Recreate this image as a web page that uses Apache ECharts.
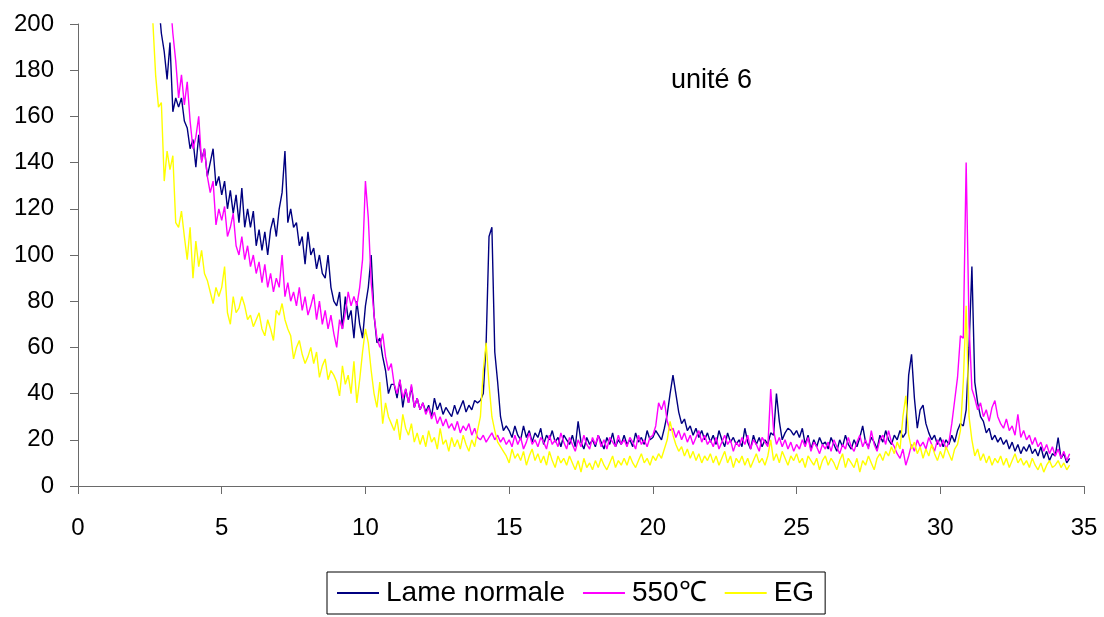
<!DOCTYPE html>
<html>
<head>
<meta charset="utf-8">
<script src="https://cdn.jsdelivr.net/npm/echarts@6/dist/echarts.min.js"></script>
<style>
  html, body { margin: 0; padding: 0; background: #fff; }
  #chart { width: 1104px; height: 617px; }
</style>
</head>
<body>
<div id="chart"></div>
<script>
  // pas de mesure : 2.5 -> 34.5 par 0.1
  const xStart = 2.5;
  const xStep = 0.1;

  const lameNormale = [
    262, 248, 232, 210, 196,
    188, 176, 192, 162, 168, 164, 168, 158, 155, 146,
    150, 138, 152, 141, 146, 134, 140, 146, 130, 134,
    126, 132, 120, 128, 118, 126, 114, 129, 112, 120,
    112, 119, 104, 111, 102, 110, 100, 111, 116, 108,
    120, 127, 145, 114, 120, 112, 114, 104, 108, 96,
    110, 100, 103, 94, 100, 92, 90, 100, 86, 80,
    78, 84, 68, 82, 72, 76, 64, 80, 70, 64,
    78, 86, 100, 74, 62, 64, 56, 50, 40, 44,
    44, 38, 46, 34, 42, 36, 43, 34, 38, 33,
    36, 32, 35, 30, 38, 33, 36, 31, 34, 32,
    30, 35, 31, 34, 37, 32, 35, 33, 37, 36,
    37, 40, 62, 108, 112, 58, 45, 30, 24, 26,
    24, 21, 26, 22, 20, 26, 21, 24, 19, 23,
    21, 25, 18, 22, 20, 24, 19, 21, 17, 22,
    20, 18, 22, 17, 28, 19, 16, 21, 18, 20,
    17, 22, 19, 16, 21, 18, 23, 17, 20, 18,
    22, 18, 20, 17, 23, 19, 21, 18, 24, 20,
    21, 24, 22, 20, 25, 31, 40, 48, 40, 32,
    27, 29, 24, 26, 22, 25, 21, 24, 20, 23,
    19, 22, 18, 24, 20, 17, 23, 19, 21, 18,
    20, 17, 25, 19, 16, 22, 18, 21, 17, 20,
    18, 23, 22, 40, 28, 20, 23, 25, 24, 22,
    24, 21, 25, 18, 22, 16, 20, 17, 21, 18,
    19, 16, 21, 18, 15, 20, 17, 22, 18, 16,
    20, 17, 21, 26, 19, 17, 21, 19, 16, 22,
    19, 24, 20, 18, 22, 20, 24, 21, 23, 48,
    57, 38, 25, 33, 35, 27, 23, 20, 22, 18,
    21, 17, 20, 18, 22, 19, 24, 27, 26, 33,
    60, 95, 45, 36, 30, 28, 23, 25, 20, 22,
    19, 21, 18, 20, 16, 19, 15, 18, 14, 17,
    15, 18, 14, 16, 13, 17, 12, 15, 11, 14,
    13, 21, 12, 14, 10, 12
  ];

  const chauffe550 = [
    280, 268, 255, 244, 236,
    228, 220, 212, 196, 184, 168, 178, 165, 175, 158,
    146, 151, 160, 140, 146, 134, 127, 132, 113, 120,
    115, 121, 108, 112, 118, 104, 100, 108, 98, 104,
    95, 100, 92, 97, 88, 96, 86, 92, 84, 90,
    86, 100, 82, 88, 80, 84, 78, 86, 76, 82,
    74, 78, 83, 72, 80, 70, 76, 68, 74, 66,
    60, 72, 68, 75, 84, 78, 82, 78, 86, 98,
    132, 116, 88, 74, 64, 60, 66, 56, 50, 53,
    44, 40, 46, 38, 42, 36, 44, 34, 38, 33,
    36, 31, 34, 29, 32, 27, 30, 26, 29, 25,
    27, 24, 28, 23, 26, 24, 27, 22, 25, 21,
    20, 22, 19, 21, 23, 20, 22, 19, 21, 18,
    20, 17, 22, 18, 21, 16, 19, 23, 18, 20,
    17, 21, 19, 16, 22, 18, 20, 17, 23, 19,
    16, 21, 18, 15, 20, 17, 22, 18, 16, 21,
    18, 22, 17, 20, 16, 21, 19, 17, 22, 18,
    20, 17, 21, 19, 16, 22, 18, 20, 17, 21,
    22, 26, 36, 33, 37, 28, 24, 25, 21, 24,
    20, 23, 19, 22, 18, 21, 24, 19, 22, 18,
    20, 17, 21, 16, 19, 22, 18, 20, 15, 19,
    17, 21, 18, 22, 16, 20, 18, 15, 21, 19,
    17, 42, 24, 18, 21, 17, 20, 16, 19, 15,
    18, 16, 20, 17, 21, 15, 19, 17, 14, 18,
    16, 19, 15, 20, 17, 14, 18, 16, 21, 17,
    15, 19, 22, 17, 20, 16, 24, 18, 15, 20,
    22, 18, 24, 19, 17, 14, 12, 16, 9, 13,
    18, 15, 20, 17, 19, 16, 21, 18, 15, 20,
    17, 20, 16, 19, 27, 37, 47, 65, 64, 140,
    70, 42, 38, 33, 36, 30, 33, 28, 34, 37,
    30, 27, 25, 29, 24, 26, 22, 31, 21, 24,
    20, 22, 18, 21, 17, 19, 15, 18, 14, 17,
    13, 16, 12, 15, 11, 14
  ];

  const eg = [
    226, 202, 178, 164, 166,
    132, 145, 137, 143, 114, 112, 119, 108, 98, 112,
    90, 106, 95, 102, 92, 89, 84, 79, 86, 82,
    86, 95, 75, 70, 82, 75, 77, 82, 78, 72,
    74, 69, 72, 75, 68, 65, 72, 68, 63, 76,
    74, 79, 72, 68, 65, 55, 60, 63, 57, 53,
    56, 60, 53, 58, 47, 52, 55, 46, 50, 48,
    45, 39, 52, 44, 48, 40, 54, 36, 46, 58,
    68, 62, 50, 40, 34, 45, 27, 36, 30, 27,
    24, 29, 20, 31, 25, 22, 27, 19, 23, 18,
    22, 17, 24, 19, 21, 16, 25, 18, 20, 15,
    21, 17, 20, 16, 22, 18, 15, 20, 17, 24,
    30, 50, 62, 44, 30, 24, 19, 17, 15, 13,
    10, 16, 12, 14, 11, 15, 9, 13, 16, 11,
    14, 10, 13, 9, 15, 11, 8, 13, 10, 12,
    9, 13, 10, 7, 11, 6, 12, 8, 10, 7,
    11, 8, 12, 9, 7, 10, 13, 8, 11, 9,
    12, 9, 13, 10, 8, 11, 14, 10, 12, 9,
    13, 11, 14, 12, 16, 20, 28, 22, 18, 15,
    17, 13, 16, 12, 15, 11, 14, 10, 13, 11,
    14, 10, 13, 9, 12, 15, 10, 13, 8, 12,
    10, 13, 9, 12, 8, 11, 14, 10, 12, 9,
    13, 20, 11, 14, 10, 15, 12, 9, 13, 11,
    14, 10, 12, 8, 13, 11, 9, 12, 7, 11,
    13, 9, 12, 10, 7, 11, 14, 8, 12, 10,
    8, 12, 6, 11, 9, 13, 10, 7, 12, 14,
    11, 15, 13, 17, 14, 19, 16, 30, 39, 22,
    16, 19, 14, 17, 12, 16, 13, 18, 14, 11,
    15, 12, 17, 14, 11, 16, 18, 24, 45, 78,
    30, 20, 13, 16, 11, 14, 10, 13, 9, 12,
    10, 13, 9, 12, 8, 11, 14, 10, 12, 9,
    11, 8, 12, 9, 7, 10, 6, 9, 11, 8,
    9, 11, 8, 10, 7, 9
  ];

  const seriesNames = ['Lame normale', '550℃', 'EG'];
  const seriesColors = ['#000080', '#FF00FF', '#FFFF00'];
  const xTicks = { min: 0, max: 35, interval: 5 };
  const yTicks = { min: 0, max: 200, interval: 20 };
  const annotation = 'unité 6';

  function toPairs(values) {
    return values.map((v, i) => [Math.round((xStart + i * xStep) * 100) / 100, v]);
  }

  const font = 'Liberation Sans, Arial, sans-serif';
  const axisGray = '#6a6a6a';

  const chart = echarts.init(document.getElementById('chart'), null, { renderer: 'canvas' });

  chart.setOption({
    animation: false,
    backgroundColor: '#fff',
    grid: { left: 78, right: 20, top: 24, bottom: 131, containLabel: false },
    legend: {
      data: seriesNames.map(n => ({ name: n, icon: 'rect' })),
      left: 327,
      top: 572,
      padding: [7, 11, 7, 10],
      itemGap: 18,
      itemWidth: 42,
      itemHeight: 2,
      borderColor: '#000',
      borderWidth: 1,
      textStyle: { fontFamily: font, fontSize: 28, color: '#000', padding: [0, 0, 0, 2] }
    },
    graphic: [{
      type: 'text',
      left: 671,
      top: 67,
      style: { text: annotation, font: '27px ' + font, fill: '#000' }
    }],
    xAxis: {
      type: 'value',
      min: xTicks.min,
      max: xTicks.max,
      interval: xTicks.interval,
      axisLine: { show: true, lineStyle: { color: axisGray, width: 1 } },
      axisTick: { show: true, length: 8, lineStyle: { color: axisGray } },
      axisLabel: { fontFamily: font, fontSize: 24, color: '#000', margin: 30 },
      splitLine: { show: false }
    },
    yAxis: {
      type: 'value',
      min: yTicks.min,
      max: yTicks.max,
      interval: yTicks.interval,
      axisLine: { show: true, lineStyle: { color: axisGray, width: 1 } },
      axisTick: { show: true, length: 8, lineStyle: { color: axisGray } },
      axisLabel: { fontFamily: font, fontSize: 24, color: '#000', margin: 24 },
      splitLine: { show: false }
    },
    series: [lameNormale, chauffe550, eg].map((vals, i) => ({
      name: seriesNames[i],
      type: 'line',
      data: toPairs(vals),
      symbol: 'none',
      clip: true,
      lineStyle: { color: seriesColors[i], width: 1.4 },
      itemStyle: { color: seriesColors[i] }
    }))
  });
</script>
</body>
</html>
